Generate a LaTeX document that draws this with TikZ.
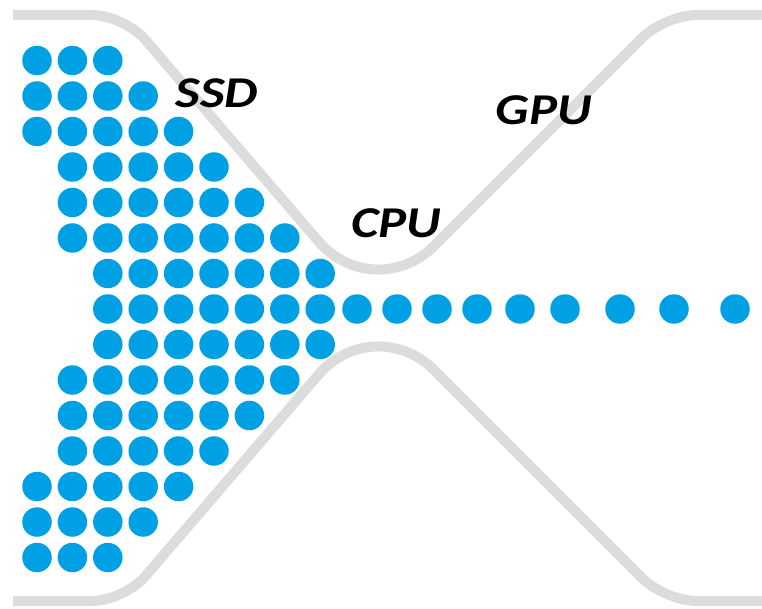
\documentclass[tikz,border=0pt]{standalone}
\usepackage{fontspec}
\newfontfamily\lblfont[FakeStretch=1.2]{Carlito}
\definecolor{dotblue}{RGB}{0,161,228}
\definecolor{railgray}{RGB}{220,220,220}
\begin{document}
\begin{tikzpicture}[x=1pt,y=-1pt,
  dot/.style={circle,fill=dotblue,inner sep=0pt,minimum size=29.5pt},
  rail/.style={draw=railgray,line width=10pt},
  tag/.style={font=\lblfont\bfseries\itshape\fontsize{44}{44}\selectfont,inner sep=0pt,anchor=base}]
\useasboundingbox (0,0) rectangle (762,609);

% upper wall of the funnel: tight shoulders, wide bend at the neck
\draw[rail] (13,15) -- (92,15) .. controls (109.7,15) and (133.3,25.9) .. (144.9,39.3)
  -- (318.6,241.5) .. controls (349.2,277.1) and (400.9,279.1) .. (434.1,245.9)
  -- (642.4,37.6) .. controls (654.9,25.1) and (679.3,15) .. (697,15) -- (762,15);
% lower wall, mirrored about the dot stream
\draw[rail] (13,601) -- (92,601) .. controls (109.7,601) and (133.3,590.1) .. (144.9,576.7)
  -- (318.6,374.5) .. controls (349.2,338.9) and (400.9,336.9) .. (434.1,370.1)
  -- (642.4,578.4) .. controls (654.9,590.9) and (679.3,601) .. (697,601) -- (762,601);

% triangular block of data dots
\foreach \r/\a/\b in {-7/0/2,-6/0/3,-5/0/4,-4/1/5,-3/1/6,-2/1/7,-1/2/8,0/2/8,1/2/8,2/1/7,3/1/6,4/1/5,5/0/4,6/0/3,7/0/2}
  \foreach \c in {\a,...,\b}
    \node[dot] (dot r\r c\c) at ({37+35.4*\c},{309+35.5*\r}) {};

% single stream leaving through the neck
\foreach \x [count=\i] in {357,397,437,477,520,565,620,674,735}
  \node[dot] (tail\i) at (\x,309) {};

% labels
\node[tag] (ssd) at (217,108) {SSD};
\node[tag] (cpu) at (396,238) {CPU};
\node[tag] (gpu) at (544,125) {GPU};
\end{tikzpicture}
\end{document}
